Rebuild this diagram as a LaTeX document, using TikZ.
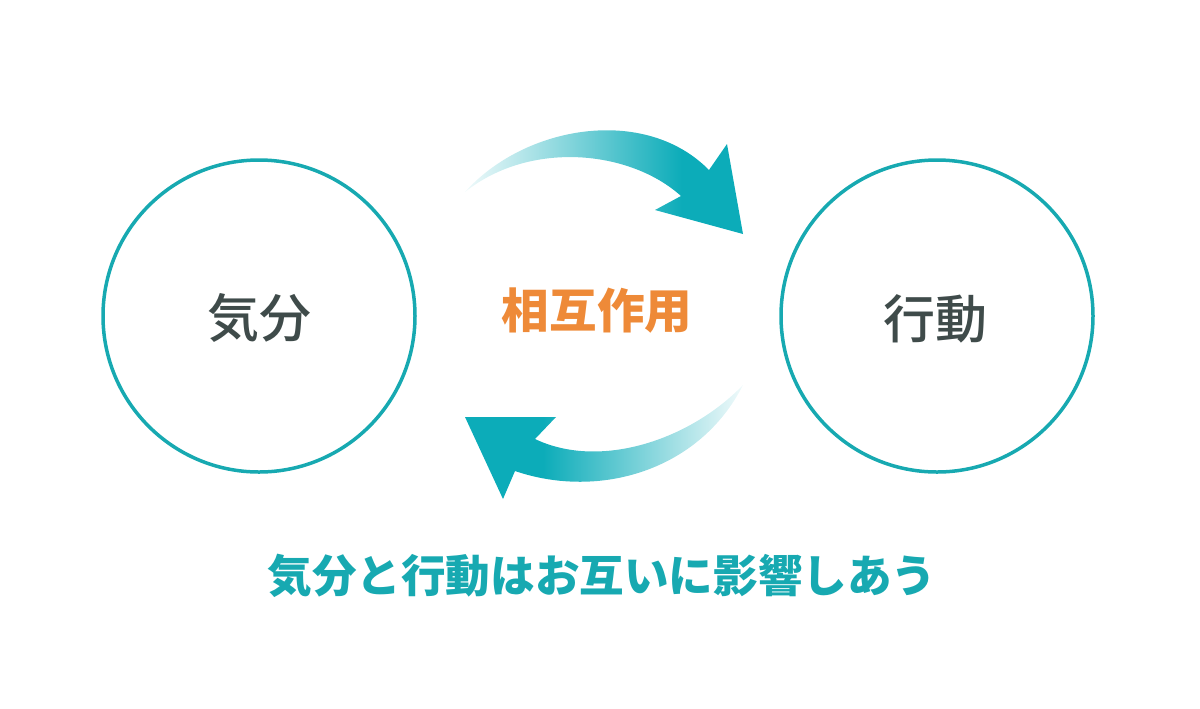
\documentclass[tikz,border=0pt]{standalone}
\usepackage{fontspec}
\newfontfamily\jp{Noto Sans CJK JP}
\newfontfamily\jpmed{Noto Sans CJK JP Medium}
\usetikzlibrary{positioning}

\definecolor{tealring}{HTML}{17A9B1}
\definecolor{tealarrow}{HTML}{0CACB9}
\definecolor{labelgray}{HTML}{3F4B4A}
\definecolor{sougoorange}{HTML}{EE8A38}

\pgfdeclarehorizontalshading{faderight}{100bp}{color(0bp)=(white); color(25bp)=(tealarrow!6); color(64bp)=(tealarrow); color(100bp)=(tealarrow)}
\pgfdeclarehorizontalshading{fadeleft}{100bp}{color(0bp)=(tealarrow); color(39bp)=(tealarrow); color(75bp)=(tealarrow!6); color(100bp)=(white)}

\tikzset{
	ring/.style={draw=tealring, line width=1.75pt, circle, minimum size=156pt, inner sep=0pt},
	ringlabel/.style={font=\jpmed\fontsize{26pt}{30pt}\selectfont, text=labelgray},
}

\begin{document}
\begin{tikzpicture}[x=0.5pt, y=-0.5pt]
	\useasboundingbox (0,0) rectangle (1200,708);
	\node[ring] (kibunring) at (259,316) {};
	\node[ring] (koudouring) at (937,316) {};
	\node[ringlabel] (kibun) at (259,318) {気分};
	\node[ringlabel] (koudou) at (935,319) {行動};
	\node[font=\jp\bfseries\fontsize{23.8pt}{28pt}\selectfont, text=sougoorange] (sougo) at (597,311) {相互作用};
	\node[font=\jp\bfseries\fontsize{22.3pt}{26pt}\selectfont, text=tealring] (caption) at (602,576) {気分と行動はお互いに影響しあう};
	% upper arrow
	\shade[shading=faderight] (465,192) .. controls (525,125) and (645,105) .. (709,170)
		-- (727,144) -- (743,234) -- (655,210) -- (681,196)
		.. controls (630,150) and (530,140) .. (465,192) -- cycle;
	% lower arrow
	\shade[shading=fadeleft] (743,385) .. controls (700,470) and (600,500) .. (515,471)
		-- (503,499) -- (465,417) -- (556,417) -- (535,439)
		.. controls (600,470) and (690,440) .. (743,385) -- cycle;
\end{tikzpicture}
\end{document}
